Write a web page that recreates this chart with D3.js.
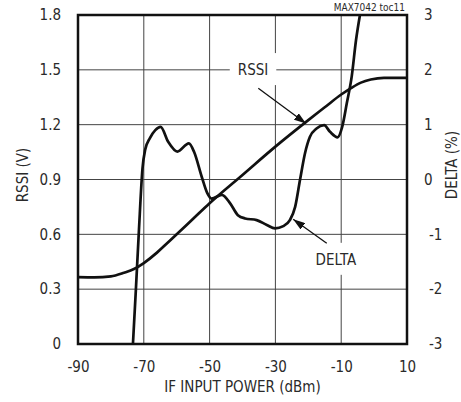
<!DOCTYPE html>
<html>
<head>
<meta charset="utf-8">
<script src="https://cdn.jsdelivr.net/npm/d3@7"></script>
<style>
  body { margin: 0; background: #fff; }
  text { font-family: "DejaVu Sans Condensed", "Liberation Sans Narrow", sans-serif; fill: #2a2a2a; }
</style>
</head>
<body>
<div id="chart"></div>
<script>
// values
var xTicks = [-90, -70, -50, -30, -10, 10];
var xGrid = [-70, -50, -30, -10];
var rssiTicks = [0, 0.3, 0.6, 0.9, 1.2, 1.5, 1.8];
var deltaTicks = [-3, -2, -1, 0, 1, 2, 3];

// RSSI (V) vs IF input power (dBm)
var rssiPower = [-90, -85, -80, -76, -73, -70, -66, -63, -60, -55, -50, -40, -30, -20, -15, -10, -7, -4, -1, 3, 10];
var rssiVolts = [0.366, 0.365, 0.37, 0.39, 0.41, 0.443, 0.5, 0.55, 0.6, 0.685, 0.77, 0.925, 1.08, 1.225, 1.295, 1.365, 1.40, 1.43, 1.447, 1.456, 1.456];

// DELTA (%) vs IF input power (dBm)
var deltaPower = [-73.3, -72.4, -71.5, -70.4, -69.6, -68.1, -66.5, -64.9, -62.6, -59.8, -56.3, -54.7, -52.4, -50.7, -49.4, -46.3, -43.8, -41.4, -39.2, -35.7, -32.6, -30.1, -27.6, -25.6, -24.0, -22.5, -21.0, -19.5, -17.5, -15.2, -13.4, -11.1, -9.7, -8.3, -6.8, -5.5, -4.3];
var deltaPct = [-3.0, -2.0, -0.95, 0.2, 0.54, 0.76, 0.9, 0.96, 0.69, 0.51, 0.66, 0.5, 0.05, -0.25, -0.35, -0.28, -0.43, -0.65, -0.71, -0.74, -0.83, -0.89, -0.85, -0.74, -0.5, 0.0, 0.48, 0.78, 0.93, 0.99, 0.87, 0.77, 0.96, 1.39, 1.88, 2.54, 3.0];

var W = 461, H = 402;
var margin = {top: 15, right: 54, bottom: 58, left: 78};
var w = W - margin.left - margin.right;
var h = H - margin.top - margin.bottom;
var fs = "15px";

var svg = d3.select("#chart").append("svg")
  .attr("width", W)
  .attr("height", H);

var defs = svg.append("defs");

var g = svg.append("g")
  .attr("transform", "translate(" + margin.left + "," + margin.top + ")");

var x = d3.scaleLinear().domain([-90, 10]).range([0, w]);
var yL = d3.scaleLinear().domain([0, 1.8]).range([h, 0]);
var yR = d3.scaleLinear().domain([-3, 3]).range([h, 0]);

// grid
g.selectAll(".vgrid").data(xGrid).enter().append("line")
  .attr("x1", function(d) { return x(d); })
  .attr("x2", function(d) { return x(d); })
  .attr("y1", 0).attr("y2", h)
  .attr("stroke", "#444").attr("stroke-width", 1);
g.selectAll(".hgrid").data(rssiTicks.slice(1, -1)).enter().append("line")
  .attr("x1", 0).attr("x2", w)
  .attr("y1", function(d) { return yL(d); })
  .attr("y2", function(d) { return yL(d); })
  .attr("stroke", "#444").attr("stroke-width", 1);

// axes (labels only, no tick marks), plain hyphen for minus
var xAxis = d3.axisBottom(x).tickValues(xTicks).tickSize(0).tickPadding(17)
  .tickFormat(function(d) { return String(d); });
var leftAxis = d3.axisLeft(yL).tickValues(rssiTicks).tickSize(0).tickPadding(17)
  .tickFormat(function(d) { return d === 0 ? "0" : d3.format(".1f")(d); });

g.append("g").attr("transform", "translate(0," + h + ")").call(xAxis);
g.append("g").call(leftAxis);
g.selectAll(".domain").remove();
g.selectAll(".tick text").style("font-size", fs).attr("font-family", null).attr("fill", null);

// right axis labels, minus sign hangs left of the digit column
g.selectAll(".rtick").data(deltaTicks).enter().append("text")
  .attr("x", function(d) { return w + (d < 0 ? 22 : 17); })
  .attr("y", function(d) { return yR(d); })
  .attr("dy", "0.35em")
  .style("font-size", fs)
  .text(function(d) { return String(d); });

// axis titles
g.append("text")
  .attr("x", w / 2).attr("y", h + 48)
  .attr("text-anchor", "middle")
  .style("font-size", fs)
  .text("IF INPUT POWER (dBm)");
svg.append("text")
  .attr("transform", "translate(28,175) rotate(-90)")
  .attr("text-anchor", "middle")
  .style("font-size", fs)
  .text("RSSI (V)");
svg.append("text")
  .attr("transform", "translate(457,165) rotate(-90)")
  .attr("text-anchor", "middle")
  .style("font-size", fs)
  .text("DELTA (%)");

svg.append("text")
  .attr("x", margin.left + w - 2).attr("y", 11)
  .attr("text-anchor", "end")
  .style("font-size", "10px")
  .text("MAX7042 toc11");

// curve labels with white knockout over the grid
function label(txt, px, py) {
  var t = g.append("text")
    .attr("x", x(px)).attr("y", py)
    .attr("text-anchor", "middle")
    .attr("dy", "0.35em")
    .style("font-size", fs)
    .text(txt);
  var b = t.node().getBBox();
  g.insert("rect", function() { return t.node(); })
    .attr("x", b.x - 8).attr("y", b.y - 8)
    .attr("width", b.width + 16).attr("height", b.height + 14)
    .attr("fill", "#fff");
}
label("RSSI", -36.8, yL(1.5));
label("DELTA", -11.6, yR(-1.46));

// clip
defs.append("clipPath").attr("id", "plotclip")
  .append("rect").attr("width", w).attr("height", h);

var rssiData = rssiPower.map(function(p, i) { return [p, rssiVolts[i]]; });
var deltaData = deltaPower.map(function(p, i) { return [p, deltaPct[i]]; });

var curves = g.append("g").attr("clip-path", "url(#plotclip)");
curves.append("path")
  .datum(rssiData)
  .attr("fill", "none").attr("stroke", "#111").attr("stroke-width", 2.7)
  .attr("d", d3.line().x(function(d) { return x(d[0]); }).y(function(d) { return yL(d[1]); }).curve(d3.curveMonotoneX));
curves.append("path")
  .datum(deltaData)
  .attr("fill", "none").attr("stroke", "#111").attr("stroke-width", 2.7)
  .attr("d", d3.line().x(function(d) { return x(d[0]); }).y(function(d) { return yR(d[1]); }).curve(d3.curveMonotoneX));

// arrows
defs.append("marker")
  .attr("id", "head").attr("viewBox", "0 0 12 8")
  .attr("refX", 12).attr("refY", 4)
  .attr("markerWidth", 12).attr("markerHeight", 8)
  .attr("markerUnits", "userSpaceOnUse")
  .attr("orient", "auto")
  .append("path").attr("d", "M0,0L12,4L0,8Z").attr("fill", "#111");

g.append("line")
  .attr("x1", x(-35.2)).attr("y1", yL(1.399))
  .attr("x2", x(-20.7)).attr("y2", yL(1.206))
  .attr("stroke", "#111").attr("stroke-width", 1.3)
  .attr("marker-end", "url(#head)");
g.append("line")
  .attr("x1", x(-14.4)).attr("y1", yR(-1.164))
  .attr("x2", x(-24.6)).attr("y2", yR(-0.726))
  .attr("stroke", "#111").attr("stroke-width", 1.3)
  .attr("marker-end", "url(#head)");

// frame
g.append("rect")
  .attr("width", w).attr("height", h)
  .attr("fill", "none").attr("stroke", "#111").attr("stroke-width", 2.5);
</script>
</body>
</html>
